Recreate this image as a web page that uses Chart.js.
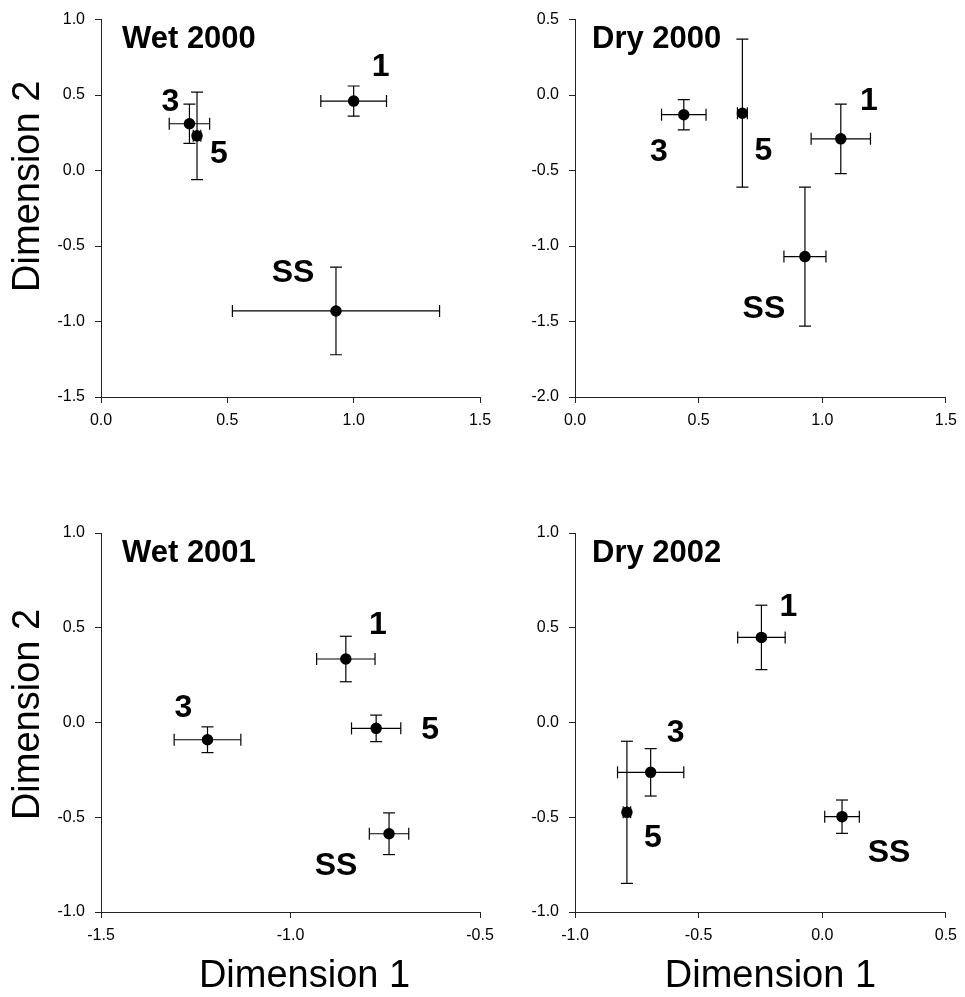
<!DOCTYPE html>
<html>
<head>
<meta charset="utf-8">
<title>Dimension plots</title>
<script src="https://cdn.jsdelivr.net/npm/chart.js@4/dist/chart.umd.min.js"></script>
<style>
	html, body { margin: 0; padding: 0; background: #fff; }
	#wrap { position: relative; width: 965px; height: 997px; }
	#wrap canvas { position: absolute; left: 0; top: 0; }
</style>
</head>
<body>
<div id="wrap">
	<canvas id="wet2000" width="965" height="997"></canvas>
	<canvas id="dry2000" width="965" height="997"></canvas>
	<canvas id="wet2001" width="965" height="997"></canvas>
	<canvas id="dry2002" width="965" height="997"></canvas>
</div>
<script>
"use strict";

/********/
/* data */
/********/
// group order in every panel: 1, 3, 5, SS
const groups = ["1", "3", "5", "SS"];
const panelTitles = ["Wet 2000", "Dry 2000", "Wet 2001", "Dry 2002"];

const wet2000Dim1 = [1.00, 0.35, 0.38, 0.93];
const wet2000Dim2 = [0.46, 0.31, 0.23, -0.93];
const wet2000Err1 = [0.13, 0.08, 0.015, 0.41];
const wet2000Err2 = [0.10, 0.13, 0.29, 0.29];

const dry2000Dim1 = [1.075, 0.44, 0.677, 0.93];
const dry2000Dim2 = [-0.29, -0.13, -0.12, -1.07];
const dry2000Err1 = [0.12, 0.09, 0.02, 0.085];
const dry2000Err2 = [0.23, 0.10, 0.49, 0.46];

const wet2001Dim1 = [-0.854, -1.219, -0.774, -0.74];
const wet2001Dim2 = [0.335, -0.091, -0.031, -0.587];
const wet2001Err1 = [0.077, 0.088, 0.065, 0.052];
const wet2001Err2 = [0.12, 0.068, 0.07, 0.11];

const dry2002Dim1 = [-0.246, -0.694, -0.79, 0.08];
const dry2002Dim2 = [0.449, -0.263, -0.474, -0.497];
const dry2002Err1 = [0.096, 0.134, 0.015, 0.07];
const dry2002Err2 = [0.17, 0.125, 0.375, 0.088];

// axis ranges [min, max]
const wet2000XRange = [0, 1.5];
const wet2000YRange = [-1.5, 1.0];
const dry2000XRange = [0, 1.5];
const dry2000YRange = [-2.0, 0.5];
const wet2001XRange = [-1.5, -0.5];
const wet2001YRange = [-1.0, 1.0];
const dry2002XRange = [-1.0, 0.5];
const dry2002YRange = [-1.0, 1.0];
const tickStep = 0.5;

/**********/
/* layout */
/**********/
const FONT = "'Liberation Sans', Arial, Helvetica, sans-serif";
const PAGE_W = 965;
const PAGE_H = 997;
const Y_AXIS_W = 60;
const X_AXIS_H = 40;

// plot area of each panel on the page: left, top, right, bottom
const panelBoxes = [
	[101, 18, 480, 397],
	[575, 18, 953, 397],
	[101, 533, 480, 912],
	[575, 533, 953, 912]
];
// where each group label sits relative to its point (px)
const labelOffsets = [
	[[27, -34], [-19, -22], [22, 18], [-43, -38]],
	[[28, -38], [-25, 37], [21, 38], [-41, 53]],
	[[32, -34], [-24, -32], [54, 2], [-53, 32]],
	[[27, -30], [25, -39], [26, 26], [47, 36]]
];

Chart.defaults.font.family = FONT;
Chart.defaults.color = "#000";

/***********/
/* plugins */
/***********/
const textMarks = {
	id: "textMarks",
	afterDatasetsDraw(chart, args, opts) {
		const ctx = chart.ctx;
		const area = chart.chartArea;
		// the points are always the last dataset
		const meta = chart.getDatasetMeta(chart.data.datasets.length - 1);
		ctx.save();
		ctx.fillStyle = "#000";
		ctx.textBaseline = "middle";
		// panel title in the top left corner
		ctx.font = "bold 31px " + FONT;
		ctx.textAlign = "left";
		ctx.fillText(opts.title, area.left + opts.titleDx, area.top + 20);
		// group names beside each point
		ctx.font = "bold 32px " + FONT;
		ctx.textAlign = "center";
		meta.data.forEach((pt, i) => {
			const off = opts.offsets[i];
			ctx.fillText(groups[i], pt.x + off[0], pt.y + off[1]);
		});
		// axis titles, only on the outer panels
		ctx.font = "38px " + FONT;
		if (opts.yTitle) {
			ctx.save();
			ctx.translate(area.left - 72, (area.top + area.bottom) / 2 + opts.yTitleDy);
			ctx.rotate(-Math.PI / 2);
			ctx.fillText("Dimension 2", 0, 0);
			ctx.restore();
		}
		if (opts.xTitle) {
			ctx.fillText("Dimension 1", (area.left + area.right) / 2 + opts.xTitleDx, area.bottom + 65);
		}
		ctx.restore();
	}
};

/***********/
/* methods */
/***********/
function errorBar(points) {
	// a black segment with flat caps, caps are drawn as "line" points
	return {
		data: points,
		showLine: true,
		borderColor: "#000",
		borderWidth: 1.2,
		pointStyle: "line",
		pointRadius: 6,
		pointBorderColor: "#000",
		pointBorderWidth: 1.2,
		pointRotation: points[0].y === points[1].y ? 90 : 0
	};
}

function buildPanel(id, idx, dim1, dim2, err1, err2, xRange, yRange, extra) {
	const box = panelBoxes[idx];
	const datasets = [];
	// error bars first so the dots are drawn over them
	for (let i = 0; i < dim1.length; i++) {
		datasets.push(errorBar([
			{ x: dim1[i] - err1[i], y: dim2[i] },
			{ x: dim1[i] + err1[i], y: dim2[i] }
		]));
		datasets.push(errorBar([
			{ x: dim1[i], y: dim2[i] - err2[i] },
			{ x: dim1[i], y: dim2[i] + err2[i] }
		]));
	}
	datasets.push({
		data: dim1.map((v, i) => ({ x: v, y: dim2[i] })),
		backgroundColor: "#000",
		borderColor: "#000",
		pointRadius: 5,
		pointBorderWidth: 1.5
	});

	const axis = (range, isX) => ({
		type: "linear",
		min: range[0],
		max: range[1],
		border: { display: true, color: "#222", width: 1 },
		grid: { drawOnChartArea: false, drawTicks: true, tickLength: 6, color: "#222" },
		ticks: {
			stepSize: tickStep,
			autoSkip: false,
			maxRotation: 0,
			padding: isX ? 8 : 10,
			font: { size: 16 },
			color: "#000",
			callback: v => v.toFixed(1)
		},
		afterFit: scale => {
			if (isX) {
				scale.height = X_AXIS_H;
			} else {
				scale.width = Y_AXIS_W;
			}
		}
	});

	new Chart(document.getElementById(id), {
		type: "scatter",
		data: { datasets: datasets },
		options: {
			responsive: false,
			animation: false,
			devicePixelRatio: 1,
			layout: {
				padding: {
					left: box[0] - Y_AXIS_W,
					top: box[1],
					right: PAGE_W - box[2],
					bottom: PAGE_H - box[3] - X_AXIS_H
				}
			},
			scales: {
				x: axis(xRange, true),
				y: axis(yRange, false)
			},
			plugins: {
				legend: { display: false },
				tooltip: { enabled: false },
				textMarks: Object.assign({
					title: panelTitles[idx],
					offsets: labelOffsets[idx]
				}, extra)
			}
		},
		plugins: [textMarks]
	});
}

/********/
/* MAIN */
/********/
(function main() {
	buildPanel("wet2000", 0, wet2000Dim1, wet2000Dim2, wet2000Err1, wet2000Err2,
		wet2000XRange, wet2000YRange, { titleDx: 21, yTitle: true, yTitleDy: -22 });
	buildPanel("dry2000", 1, dry2000Dim1, dry2000Dim2, dry2000Err1, dry2000Err2,
		dry2000XRange, dry2000YRange, { titleDx: 17 });
	buildPanel("wet2001", 2, wet2001Dim1, wet2001Dim2, wet2001Err1, wet2001Err2,
		wet2001XRange, wet2001YRange, { titleDx: 21, yTitle: true, yTitleDy: -8, xTitle: true, xTitleDx: 14 });
	buildPanel("dry2002", 3, dry2002Dim1, dry2002Dim2, dry2002Err1, dry2002Err2,
		dry2002XRange, dry2002YRange, { titleDx: 17, xTitle: true, xTitleDx: 10 });
})();
</script>
</body>
</html>
